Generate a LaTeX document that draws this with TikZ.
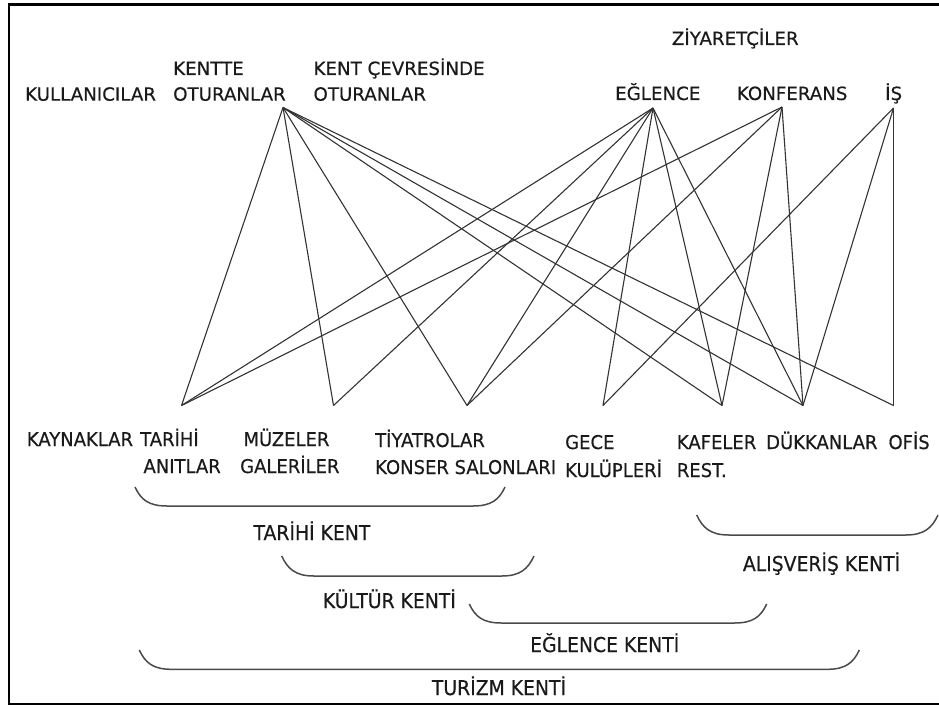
\documentclass[tikz,border=0pt]{standalone}
\usepackage{fontspec}
\setmainfont{DejaVu Sans}
\newfontfamily\topfont[FakeBold=0.4]{DejaVu Sans}
\newfontfamily\midfont[FakeStretch=0.95,FakeBold=0.4]{DejaVu Sans}
\newfontfamily\brfont[FakeStretch=0.92,FakeBold=0.4]{DejaVu Sans}
\definecolor{ink}{HTML}{1A1A1A}
\definecolor{wire}{HTML}{333333}
\definecolor{brace}{HTML}{4A4A4A}
\tikzset{
  toplab/.style={anchor=base west, inner sep=0pt, text=ink, font=\topfont\fontsize{18.3}{20}\selectfont},
  midlab/.style={anchor=base west, inner sep=0pt, text=ink, font=\midfont\fontsize{19}{21}\selectfont},
  brlab/.style={anchor=base west, inner sep=0pt, text=ink, font=\brfont\fontsize{20.5}{22}\selectfont},
  wireline/.style={draw=wire, line width=1.1bp},
  braceline/.style={draw=brace, line width=1.5bp},
  frameline/.style={draw=black, line width=2.5bp}
}
\begin{document}
\begin{tikzpicture}[x=1bp,y=-1bp]
\useasboundingbox (0,0) rectangle (939,709);
\draw[frameline] (939,4.5) -- (9,4.5) -- (9,704) -- (939,704);

% top labels
\node[toplab] (kul) at (25,100.7) {KULLANICILAR};
\node[toplab] (kt1) at (173,75) {KENTTE};
\node[toplab] (kt2) at (173,100.7) {OTURANLAR};
\node[toplab] (kc1) at (313.3,75) {KENT ÇEVRESİNDE};
\node[toplab] (kc2) at (313.3,100.7) {OTURANLAR};
\node[toplab] (ziy) at (671.7,45) {ZİYARETÇİLER};
\node[toplab] (egl) at (615,100) {EĞLENCE};
\node[toplab] (kon) at (736.7,100) {KONFERANS};
\node[toplab] (is) at (885,100) {İŞ};

% bottom labels
\node[midlab] (kay) at (26.7,446) {KAYNAKLAR};
\node[midlab] (ta1) at (140,446) {TARİHİ};
\node[midlab] (ta2) at (143.3,473) {ANITLAR};
\node[midlab] (mu1) at (243.3,446) {MÜZELER};
\node[midlab] (mu2) at (240,473) {GALERİLER};
\node[midlab] (ti1) at (375,447) {TİYATROLAR};
\node[midlab] (ti2) at (375,474) {KONSER SALONLARI};
\node[midlab] (ge1) at (565,449) {GECE};
\node[midlab] (ge2) at (565,477) {KULÜPLERİ};
\node[midlab] (ka1) at (676.7,449) {KAFELER};
\node[midlab] (ka2) at (676.7,477) {REST.};
\node[midlab] (duk) at (766,449) {DÜKKANLAR};
\node[midlab] (ofi) at (888.3,449) {OFİS};

% connector end points
\coordinate (pK) at (283,107.5);
\coordinate (pE) at (653,108);
\coordinate (pC) at (782,107);
\coordinate (pI) at (893.5,108);
\coordinate (qT) at (181.5,405.5);
\coordinate (qM) at (333.5,405.5);
\coordinate (qY) at (467,405.5);
\coordinate (qG) at (603,405.5);
\coordinate (qF) at (722,405.5);
\coordinate (qD) at (803,405.5);
\coordinate (qO) at (893.5,405.5);

% connectors
\foreach \b in {qT,qM,qY,qF,qD,qO} \draw[wireline] (pK) -- (\b);
\foreach \b in {qT,qM,qY,qG,qF,qD} \draw[wireline] (pE) -- (\b);
\foreach \b in {qT,qY,qF,qD} \draw[wireline] (pC) -- (\b);
\foreach \b in {qG,qD,qO} \draw[wireline] (pI) -- (\b);

% brackets
\newcommand{\bracketpath}[4]{% x1, x2, ytop, ybottom
  \draw[braceline] (#1,#3) .. controls (#1+6,#3+13) and (#1+14,#4) .. (#1+32,#4)
    -- (#2-32,#4) .. controls (#2-14,#4) and (#2-6,#3+13) .. (#2,#3);}
\bracketpath{135}{505}{487}{506}
\bracketpath{281.7}{534}{556}{576}
\bracketpath{469.3}{766.7}{604}{623}
\bracketpath{696.7}{938}{515}{535}
\bracketpath{139.3}{859.3}{650}{669.3}

% bracket labels
\node[brlab] (btar) at (253.3,540) {TARİHİ KENT};
\node[brlab] (bkul) at (322.7,608) {KÜLTÜR KENTİ};
\node[brlab] (bali) at (742.7,571) {ALIŞVERİŞ KENTİ};
\node[brlab] (begl) at (530,652) {EĞLENCE KENTİ};
\node[brlab] (btur) at (431.7,695) {TURİZM KENTİ};
\end{tikzpicture}
\end{document}
